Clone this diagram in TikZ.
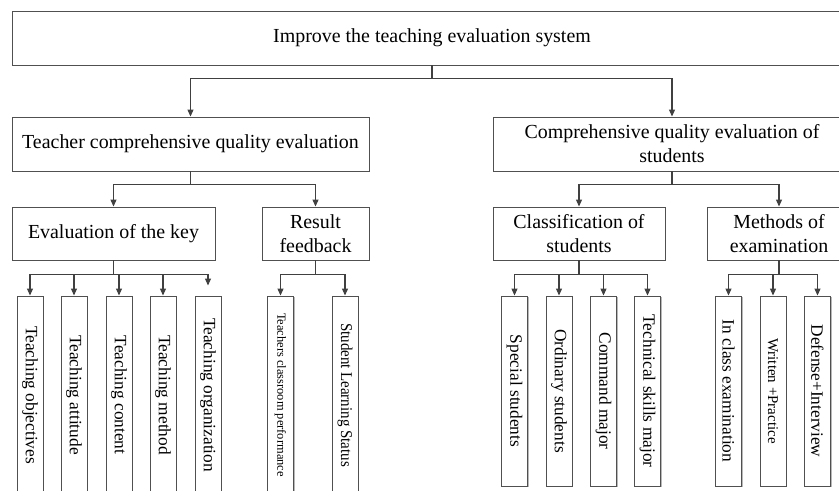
\documentclass[tikz,border=0pt]{standalone}
\usepackage{fontspec}
\usepackage{graphicx}
\setmainfont{Liberation Serif}
\usetikzlibrary{arrows.meta,shadows,calc}
\definecolor{linec}{HTML}{404040}
\definecolor{boxc}{HTML}{505050}
\begin{document}
\begin{tikzpicture}[x=1bp,y=-1bp,
  box/.style={draw=boxc, line width=0.9bp, fill=white, inner sep=0pt, align=center,
    font=\fontsize{20}{24}\selectfont,
    drop shadow={shadow xshift=1.3bp, shadow yshift=-1.3bp, fill=black!35, opacity=0.8}},
  leafbox/.style={box, minimum width=26bp, font=\fontsize{17.4}{20}\selectfont},
  lleaf/.style={leafbox, minimum height=198bp},
  rleaf/.style={leafbox, minimum height=190bp},
  conn/.style={draw=linec, line width=1.1bp, -{Triangle[length=7bp,width=6bp]}},
]
\useasboundingbox (0,0) rectangle (839,491);

% levels 1-3
\node[box, minimum width=840bp, minimum height=54bp] (top) at (432,38) {Improve the teaching evaluation system};
\node[box, minimum width=357bp, minimum height=54bp] (teacher) at (190.5,144) {Teacher comprehensive quality evaluation};
\node[box, minimum width=358bp, minimum height=54bp] (students) at (672,144) {Comprehensive quality evaluation of\\students};
\node[box, minimum width=203bp, minimum height=53bp] (evalkey) at (113.5,233.5) {Evaluation of the key};
\node[box, minimum width=107bp, minimum height=53bp] (result) at (315.5,233.5) {Result\\feedback};
\node[box, minimum width=172bp, minimum height=53bp] (classif) at (579,233.5) {Classification of\\students};
\node[box, minimum width=144bp, minimum height=53bp] (methods) at (779,233.5) {Methods of\\examination};

% left leaves
\node[lleaf] (obj) at (30,395) {\rotatebox{-90}{Teaching objectives}};
\node[lleaf] (att) at (74,395) {\rotatebox{-90}{Teaching attitude}};
\node[lleaf] (cont) at (119,395) {\rotatebox{-90}{Teaching content}};
\node[lleaf] (meth) at (163,395) {\rotatebox{-90}{Teaching method}};
\node[lleaf] (org) at (208,395) {\rotatebox{-90}{Teaching organization}};
\node[lleaf, font=\fontsize{12.5}{14}\selectfont] (tcp) at (280.5,395) {\rotatebox{-90}{Teachers classroom performance}};
\node[lleaf, font=\fontsize{16.5}{18}\selectfont] (sls) at (345,395) {\rotatebox{-90}{\scalebox{0.91}[1]{Student Learning Status}}};

% right leaves
\node[rleaf] (spec) at (514.5,391) {\rotatebox{-90}{Special students}};
\node[rleaf] (ord) at (559,391) {\rotatebox{-90}{Ordinary students}};
\node[rleaf] (cmd) at (603.5,391) {\rotatebox{-90}{Command major}};
\node[rleaf] (tech) at (647.5,391) {\rotatebox{-90}{Technical skills major}};
\node[rleaf] (incl) at (728.5,391) {\rotatebox{-90}{In class examination}};
\node[rleaf, font=\fontsize{15}{17}\selectfont] (writ) at (773,391) {\rotatebox{-90}{Written +Practice}};
\node[rleaf] (def) at (817.5,391) {\rotatebox{-90}{Defense+Interview}};

% connectors
\draw[conn] (top.south) -- ++(0,13) -| (teacher.north);
\draw[conn] (top.south) -- ++(0,13) -| (students.north);

\draw[conn] (teacher.south) -- ++(0,13) -| (evalkey.north);
\draw[conn] (teacher.south) -- ++(0,13) -| (result.north);
\draw[conn] (students.south) -- ++(0,13) -| (classif.north);
\draw[conn] (students.south) -- ++(0,13) -| (methods.north);

\foreach \c in {obj,att,cont,meth}
  \draw[conn] (evalkey.south) -- ++(0,14) -| (\c.north);
\draw[conn] (evalkey.south) -- ++(0,14) -| ($(org.north)+(0,-10)$);

\foreach \c in {tcp,sls}
  \draw[conn] (result.south) -- ++(0,14) -| (\c.north);
\foreach \c in {spec,ord,cmd,tech}
  \draw[conn] (classif.south) -- ++(0,14) -| (\c.north);
\foreach \c in {incl,writ,def}
  \draw[conn] (methods.south) -- ++(0,14) -| (\c.north);
\end{tikzpicture}
\end{document}
